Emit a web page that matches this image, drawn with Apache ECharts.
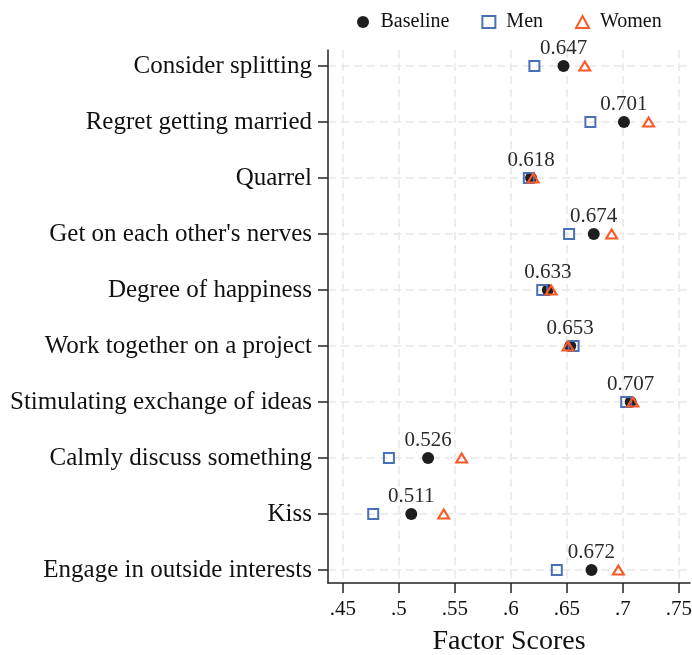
<!DOCTYPE html>
<html><head><meta charset="utf-8">
<script src="https://cdn.jsdelivr.net/npm/echarts@6/dist/echarts.min.js"></script>
<style>html,body{margin:0;padding:0;background:#fff}#c{width:692px;height:655px}</style>
</head><body><div id="c"></div>
<script>
const categories = ['Consider splitting','Regret getting married','Quarrel',"Get on each other's nerves",'Degree of happiness','Work together on a project','Stimulating exchange of ideas','Calmly discuss something','Kiss','Engage in outside interests'];
const baseline = [0.647,0.701,0.618,0.674,0.633,0.653,0.707,0.526,0.511,0.672];
const men = [0.621,0.671,0.616,0.652,0.628,0.656,0.703,0.491,0.477,0.641];
const women = [0.666,0.723,0.620,0.690,0.636,0.651,0.709,0.556,0.540,0.696];
const xTicks = [0.45,0.5,0.55,0.6,0.65,0.7,0.75];
const xTickLabels = ['.45','.5','.55','.6','.65','.7','.75'];
const catIdx = categories.map((c,i)=>i);

const FONT = '"Liberation Serif","Times New Roman",serif';
const BLUE = '#4a70b5', ORANGE = '#fa5a28', BLACK = '#1e1e1e';
const grid = {type:[8,5], color:'#e8e8e8', width:1.5};
const chart = echarts.init(document.getElementById('c'));
chart.setOption({
  animation:false,
  backgroundColor:'#fff',
  legend:{
    left:352, top:7, itemGap:32, itemWidth:13, itemHeight:12,
    textStyle:{fontFamily:FONT, fontSize:20, color:'#111', padding:[0,0,0,6]},
    data:[
      {name:'Baseline', icon:'circle', itemStyle:{color:BLACK, borderWidth:0, opacity:1}},
      {name:'Men', icon:'rect', itemStyle:{color:'rgba(0,0,0,0)', borderColor:BLUE, borderWidth:2, opacity:1}},
      {name:'Women', icon:'triangle', itemStyle:{color:'rgba(0,0,0,0)', borderColor:ORANGE, borderWidth:2, opacity:1}}
    ]
  },
  grid:{left:328, right:2, top:50, bottom:72, containLabel:false, outerBoundsMode:'none'},
  xAxis:{
    type:'value', min:0.4366, max:0.76,
    name:'Factor Scores', nameLocation:'middle', nameGap:45,
    nameTextStyle:{fontFamily:FONT, fontSize:28, color:'#111'},
    axisLine:{show:true, onZero:false, lineStyle:{color:'#222', width:1.5}},
    axisTick:{show:true, length:10, customValues:xTicks, lineStyle:{color:'#222', width:1.5}},
    axisLabel:{customValues:xTicks, margin:16, fontFamily:FONT, fontSize:21, color:'#111',
      formatter:v=>{let b=0;xTicks.forEach((t,i)=>{if(Math.abs(t-v)<Math.abs(xTicks[b]-v))b=i;});return xTickLabels[b];}},
    splitLine:{show:true, lineStyle:grid}
  },
  yAxis:{
    type:'value', inverse:true, min:-0.286, max:9.232,
    axisLine:{show:true, onZero:false, lineStyle:{color:'#222', width:1.5}},
    axisTick:{show:true, length:10, customValues:catIdx, lineStyle:{color:'#222', width:1.5}},
    axisLabel:{customValues:catIdx, margin:16, fontFamily:FONT, fontSize:25, color:'#111',
      formatter:v=>categories[Math.round(v)]},
    splitLine:{show:true, lineStyle:grid}
  },
  series:[
    {name:'Baseline', type:'scatter', symbol:'circle', symbolSize:12, z:2,
      itemStyle:{color:BLACK, opacity:1},
      label:{show:true, position:'top', distance:1, fontFamily:FONT, fontSize:21, color:'#2a2a2a',
        formatter:p=>p.value[0].toFixed(3)},
      data:baseline.map((v,i)=>[v,i])},
    {name:'Men', type:'scatter', symbol:'rect', symbolSize:10, z:3,
      itemStyle:{color:'rgba(0,0,0,0)', borderColor:BLUE, borderWidth:2, opacity:1},
      data:men.map((v,i)=>[v,i])},
    {name:'Women', type:'scatter', symbol:'triangle', symbolSize:[11,9], z:4,
      itemStyle:{color:'rgba(0,0,0,0)', borderColor:ORANGE, borderWidth:2, opacity:1},
      data:women.map((v,i)=>[v,i])}
  ]
});
</script></body></html>
